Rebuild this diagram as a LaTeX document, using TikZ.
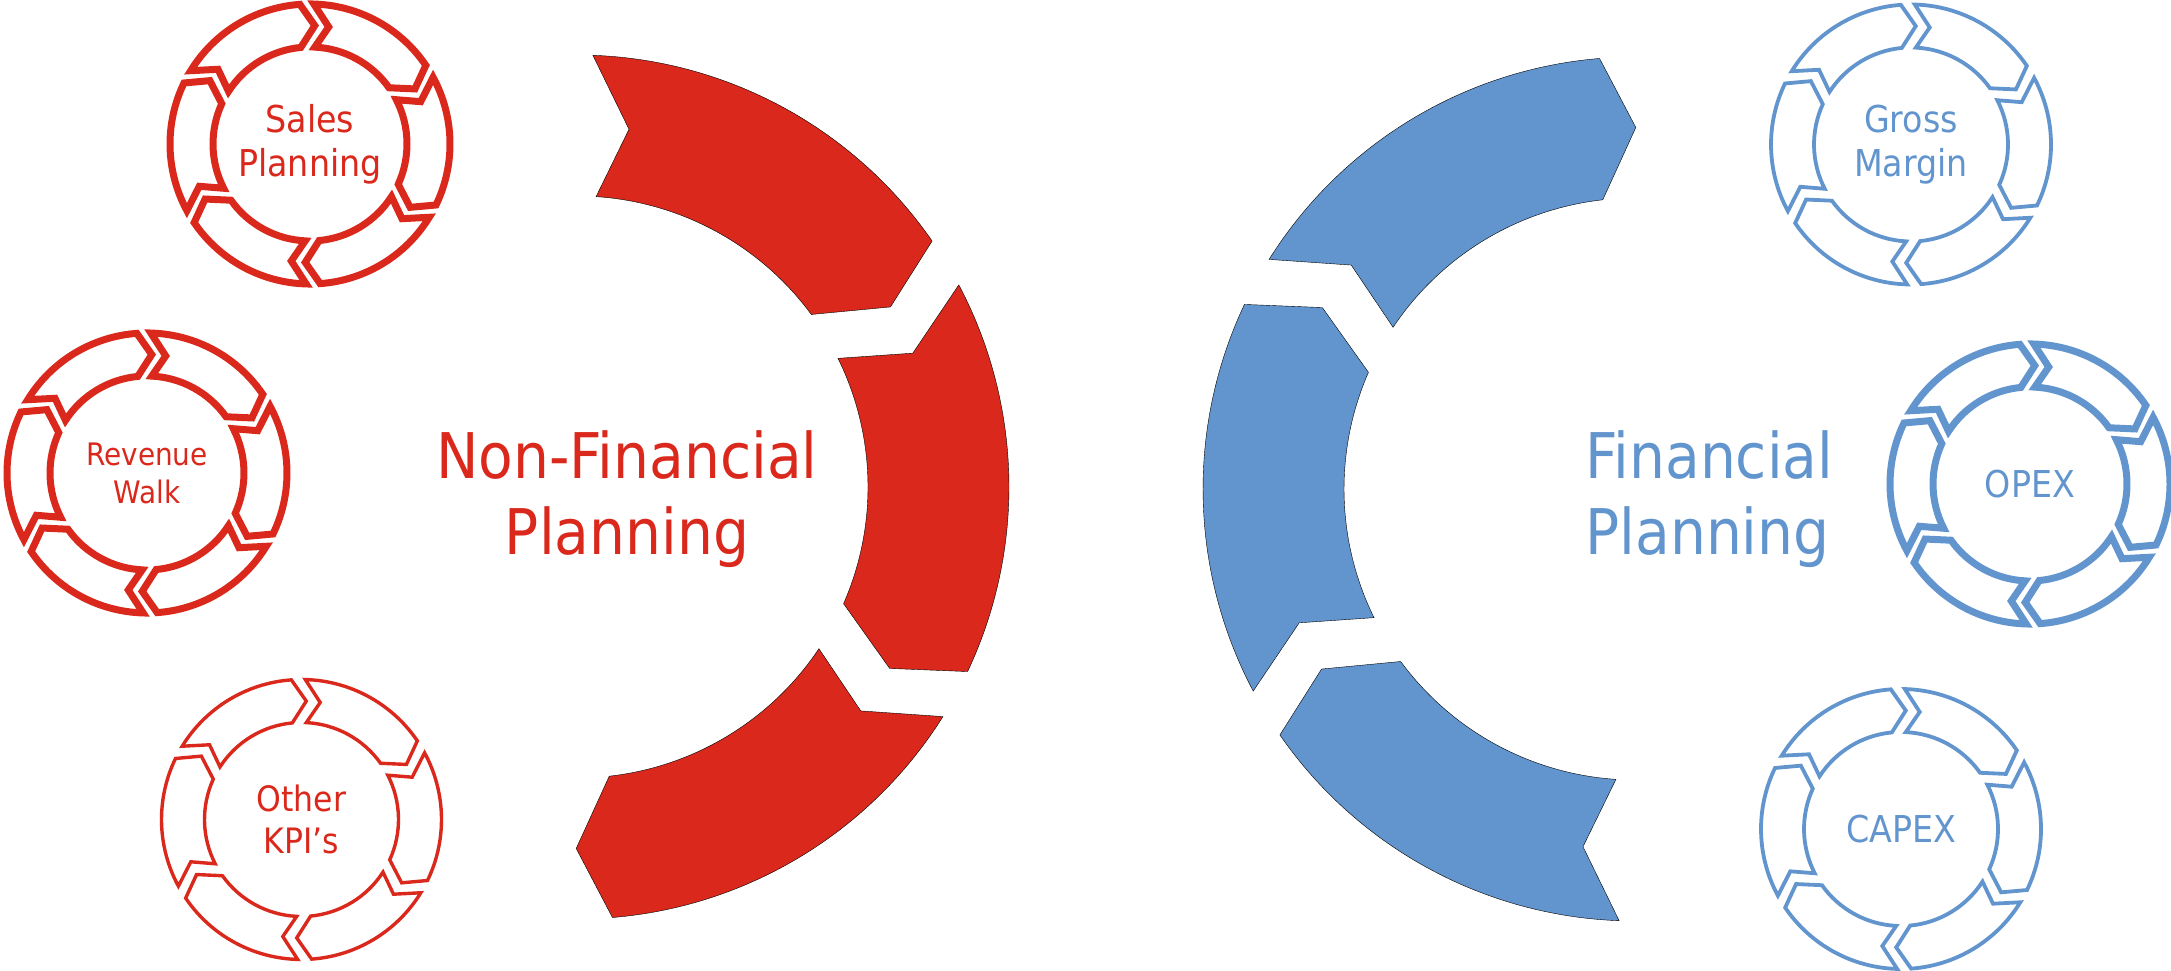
\documentclass[tikz,border=0pt]{standalone}
\usepackage{fontspec}
\setmainfont{DejaVu Sans Condensed}
\usepackage{tikz}
\usetikzlibrary{positioning}
\definecolor{nonfin}{RGB}{218,41,28}
\definecolor{fin}{RGB}{98,149,206}

% one chevron piece of a six-part cycle ring
% [#1 style] #2 centre, #3 outer radius, #4 inner radius, #5 half gap, #6 dip, #7 start angle
\newcommand{\chevseg}[7][]{%
  \pgfmathsetmacro{\midR}{(#3+#4)/2}%
  \pgfmathsetmacro{\endA}{#7-60}%
  \pgfmathsetmacro{\oA}{#7-deg(#5/#3)}%
  \pgfmathsetmacro{\oB}{\endA+deg(#5/#3)}%
  \pgfmathsetmacro{\iA}{#7-deg(#5/#4)}%
  \pgfmathsetmacro{\iB}{\endA+deg(#5/#4)}%
  \pgfmathsetmacro{\tipA}{\endA-#6+deg(#5/\midR)}%
  \pgfmathsetmacro{\notchA}{#7-#6-deg(#5/\midR)}%
  \draw[#1] ([shift={(#2)}]\oA:#3) arc[start angle=\oA, end angle=\oB, radius=#3]
    -- ([shift={(#2)}]\tipA:\midR) -- ([shift={(#2)}]\iB:#4)
    arc[start angle=\iB, end angle=\iA, radius=#4]
    -- ([shift={(#2)}]\notchA:\midR) -- cycle;%
}

\begin{document}
\begin{tikzpicture}[x=1pt,y=1pt,
    title/.style={text=#1,align=center,font=\fontsize{63}{76}\selectfont},
    caption/.style={text=#1,align=center,inner sep=0pt}]
  \useasboundingbox (0,0) rectangle (2171,971);

  % big half rings
  \coordinate (nfc) at (577,484);
  \coordinate (fc) at (1635,482);
  \foreach \a in {91.3,31.3,-28.7}
    \chevseg[fill=nonfin]{nfc}{432}{291}{25.7}{5.5}{\a};
  \foreach \a in {271.3,211.3,151.3}
    \chevseg[fill=fin]{fc}{432}{291}{25.7}{5.5}{\a};

  \node[title=nonfin] (nonfin) at (627,472) {Non-Financial\\Planning};
  \node[title=fin,align=left,anchor=west] (fin) at (1582,472) {Financial\\Planning};

  % small cycles
  \coordinate (sales) at (310,827);
  \coordinate (revenue) at (147,498);
  \coordinate (kpi) at (301.5,151.5);
  \coordinate (gross) at (1911,826.5);
  \coordinate (opex) at (2030,487);
  \coordinate (capex) at (1901,142);
  \foreach \c/\w/\k in {sales/7/nonfin,revenue/7/nonfin,kpi/3.4/nonfin,
                        gross/3.8/fin,opex/7/fin,capex/3.8/fin}
    \foreach \a in {91.3,31.3,-28.7,-88.7,-148.7,-208.7}
      \chevseg[draw=\k,line width=\w pt]{\c}{140}{97}{7}{7}{\a};

  \node[caption=nonfin,font=\fontsize{37}{44}\selectfont] (salestxt) at (sales) {Sales\\Planning};
  \node[caption=nonfin,font=\fontsize{31}{38}\selectfont] (revenuetxt) at (revenue) {Revenue\\Walk};
  \node[caption=nonfin,font=\fontsize{35}{42}\selectfont] (kpitxt) at (kpi) {Other\\KPI’s};
  \node[caption=fin,font=\fontsize{37}{44}\selectfont] (grosstxt) at (gross) {Gross\\Margin};
  \node[caption=fin,font=\fontsize{37}{44}\selectfont] (opextxt) at (opex) {OPEX};
  \node[caption=fin,font=\fontsize{37}{44}\selectfont] (capextxt) at (capex) {CAPEX};
\end{tikzpicture}
\end{document}
